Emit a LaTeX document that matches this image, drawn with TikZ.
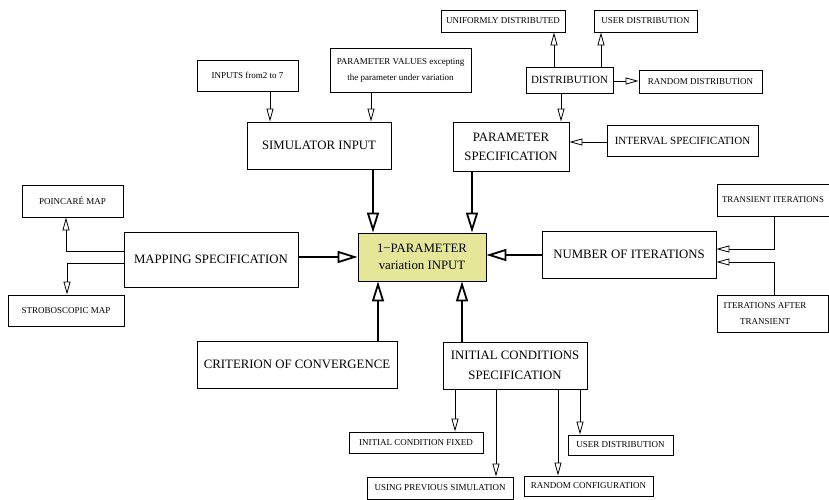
\documentclass[tikz,border=0pt]{standalone}
\usepackage{fontspec}
\setmainfont{Liberation Serif}
\usetikzlibrary{arrows.meta}
\definecolor{centerfill}{RGB}{230,230,153}
\tikzset{
  box/.style={draw=black, line width=0.9pt, rectangle, inner sep=0pt, align=center},
  bigtxt/.style={font=\fontsize{12.8}{19}\selectfont},
  midtxt/.style={font=\fontsize{11}{15}\selectfont},
  smalltxt/.style={font=\fontsize{9}{16}\selectfont},
  tarr/.style={draw=black, line width=0.8pt, -{Triangle[open, length=13pt, width=7pt]}},
  karr/.style={draw=black, line width=1.8pt, -{Triangle[open, length=20pt, width=12pt]}},
}
\begin{document}
\begin{tikzpicture}[x=1pt, y=-1pt]
\useasboundingbox (0,0) rectangle (829,500);
\clip (0,0) rectangle (829,500);

% nodes
\node[box, smalltxt, minimum width=101pt, minimum height=31pt] (inp) at (247.5,75.5) {INPUTS from2 to 7};
\node[box, smalltxt, minimum width=141pt, minimum height=44pt] (pval) at (400.5,70) {PARAMETER VALUES excepting\\the parameter under variation};
\node[box, bigtxt, minimum width=144pt, minimum height=47pt] (sim) at (319,145.5) {SIMULATOR INPUT};
\node[box, smalltxt, minimum width=124pt, minimum height=22pt] (unif) at (503,21) {UNIFORMLY DISTRIBUTED};
\node[box, smalltxt, minimum width=103pt, minimum height=22pt] (userd) at (645.5,21) {USER DISTRIBUTION};
\node[box, midtxt, minimum width=87pt, minimum height=26pt] (dist) at (569.5,80) {DISTRIBUTION};
\node[box, smalltxt, minimum width=123pt, minimum height=23pt] (randd) at (700.5,81.5) {RANDOM DISTRIBUTION};
\node[box, bigtxt, minimum width=116pt, minimum height=49pt] (pspec) at (511,146.5) {PARAMETER\\SPECIFICATION};
\node[box, midtxt, minimum width=151pt, minimum height=31pt] (interval) at (682.5,140.5) {INTERVAL SPECIFICATION};
\node[box, smalltxt, minimum width=101pt, minimum height=32pt] (poinc) at (72.5,201) {POINCARÉ MAP};
\node[box, bigtxt, minimum width=174pt, minimum height=55pt] (mapping) at (211,259.5) {MAPPING SPECIFICATION};
\node[box, smalltxt, minimum width=116pt, minimum height=31pt] (strob) at (66,310.5) {STROBOSCOPIC MAP};
\node[box, fill=centerfill, font=\fontsize{12.8}{17}\selectfont, minimum width=128pt, minimum height=48pt] (center) at (422,257) {1−PARAMETER\\variation INPUT};
\node[box, bigtxt, minimum width=174pt, minimum height=47pt] (niter) at (629,254.5) {NUMBER OF ITERATIONS};
\node[box, minimum width=124pt, minimum height=32pt] (trans) at (779,200) {};
\node[font=\fontsize{8.8}{16}\selectfont, inner sep=0pt] (transT) at (773,200) {TRANSIENT ITERATIONS};
\node[box, minimum width=111pt, minimum height=37pt] (iafter) at (772.5,313.5) {};
\node[smalltxt, align=center, inner sep=0pt] (iafterT) at (765,313.5) {ITERATIONS AFTER\\TRANSIENT};
\node[box, bigtxt, minimum width=200pt, minimum height=47pt] (crit) at (297,364.5) {CRITERION OF CONVERGENCE};
\node[box, font=\fontsize{12.8}{20}\selectfont, minimum width=144pt, minimum height=47pt] (icspec) at (515,365.5) {INITIAL CONDITIONS\\SPECIFICATION};
\node[box, smalltxt, minimum width=134pt, minimum height=21pt] (icfix) at (416,442.5) {INITIAL CONDITION FIXED};
\node[box, smalltxt, minimum width=146pt, minimum height=22pt] (iprev) at (440,488) {USING PREVIOUS SIMULATION};
\node[box, smalltxt, minimum width=129pt, minimum height=20pt] (rconf) at (588.5,486) {RANDOM CONFIGURATION};
\node[box, smalltxt, minimum width=105pt, minimum height=20pt] (userdb) at (620.5,445) {USER DISTRIBUTION};

% thin connectors
\draw[tarr] (270,0 |- inp.south) -- (270,0 |- sim.north);
\draw[tarr] (371,0 |- pval.south) -- (371,0 |- sim.north);
\draw[tarr] (554,0 |- dist.north) -- (554,0 |- unif.south);
\draw[tarr] (601,0 |- dist.north) -- (601,0 |- userd.south);
\draw[tarr] (dist.east |- 0,81) -- (randd.west |- 0,81);
\draw[tarr] (561,0 |- dist.south) -- (561,0 |- pspec.north);
\draw[tarr] (interval.west |- 0,142) -- (pspec.east |- 0,142);
\draw[tarr] (mapping.west |- 0,251) -| (66,0 |- poinc.south);
\draw[tarr] (mapping.west |- 0,263) -| (67,0 |- strob.north);
\draw[tarr] (774,0 |- trans.south) |- (niter.east |- 0,249);
\draw[tarr] (774,0 |- iafter.north) |- (niter.east |- 0,262);
\draw[tarr] (455,0 |- icspec.south) -- (455,0 |- icfix.north);
\draw[tarr] (496,0 |- icspec.south) -- (496,0 |- iprev.north);
\draw[tarr] (558,0 |- icspec.south) -- (558,0 |- rconf.north);
\draw[tarr] (580,0 |- icspec.south) -- (580,0 |- userdb.north);

% thick connectors
\draw[karr] (373,0 |- sim.south) -- (373,0 |- center.north);
\draw[karr] (472,0 |- pspec.south) -- (472,0 |- center.north);
\draw[karr] (mapping.east |- 0,257) -- (center.west |- 0,257);
\draw[karr] (niter.west |- 0,255) -- (center.east |- 0,255);
\draw[karr] (378,0 |- crit.north) -- (378,0 |- center.south);
\draw[karr] (462,0 |- icspec.north) -- (462,0 |- center.south);
\end{tikzpicture}
\end{document}
